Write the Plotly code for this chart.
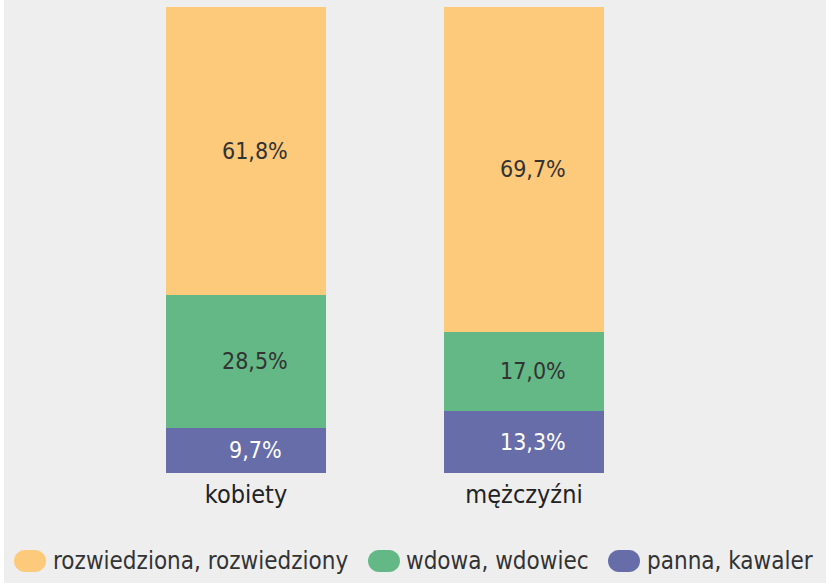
import plotly.graph_objects as go

# dane
categories = ['kobiety', 'mężczyźni']
panna_kawaler = [9.7, 13.3]
wdowa_wdowiec = [28.5, 17.0]
rozwiedzeni = [61.8, 69.7]

series = [
    ('panna, kawaler', panna_kawaler, '#676DA8', 'white'),
    ('wdowa, wdowiec', wdowa_wdowiec, '#63B886', '#333333'),
    ('rozwiedziona, rozwiedziony', rozwiedzeni, '#FDC97B', '#333333'),
]

FONT = 'DejaVu Sans Condensed, sans-serif'
W, H = 826, 583
ML, MR, MT, MB = 107, 163, 7, 110
PW, PH = W - ML - MR, H - MT - MB

fig = go.Figure()
annotations = []
base = [0.0] * len(categories)
for name, vals, col, tcol in series:
    fig.add_trace(go.Bar(
        x=categories, y=vals, name=name,
        marker=dict(color=col, line=dict(width=0)),
        showlegend=False, hoverinfo='x+y+name',
    ))
    # etykiety wartości (lekko przesunięte w prawo jak w oryginale)
    for i, (c, v) in enumerate(zip(categories, vals)):
        annotations.append(dict(
            x=c, y=base[i] + v / 2, xref='x', yref='y',
            text=f'{v:.1f}%'.replace('.', ','), showarrow=False,
            xshift=9, font=dict(family=FONT, size=23, color=tcol)))
        base[i] += v


def px2paper(px, py):
    return (px - ML) / PW, (H - MB - py) / PH


def pill(w, h):
    r = h / 2
    k = 0.5523 * r
    a = w / 2 - r
    return (f'M {-a},{-r} L {a},{-r} '
            f'C {a + k},{-r} {a + r},{-k} {a + r},0 '
            f'C {a + r},{k} {a + k},{r} {a},{r} '
            f'L {-a},{r} '
            f'C {-a - k},{r} {-a - r},{k} {-a - r},0 '
            f'C {-a - r},{-k} {-a - k},{-r} {-a},{-r} Z')


# legenda rysowana ręcznie (zaokrąglone znaczniki)
legend_items = [
    ('rozwiedziona, rozwiedziony', '#FDC97B', 30, 51),
    ('wdowa, wdowiec', '#63B886', 384, 404),
    ('panna, kawaler', '#676DA8', 624, 645),
]
shapes = []
ly = 561
for label, col, cx, tx in legend_items:
    ax, ay = px2paper(cx, ly)
    shapes.append(dict(type='path', xref='paper', yref='paper',
                       xsizemode='pixel', ysizemode='pixel',
                       xanchor=ax, yanchor=ay, path=pill(32, 22),
                       fillcolor=col, line=dict(width=0)))
    tx_, ty_ = px2paper(tx, ly)
    annotations.append(dict(text=label, xref='paper', yref='paper',
                            x=tx_, y=ty_, xanchor='left', yanchor='middle',
                            showarrow=False,
                            font=dict(family=FONT, size=24, color='#333333')))

# biały pasek przy lewej krawędzi
x0, _ = px2paper(0, 0)
x1, _ = px2paper(4, 0)
shapes.append(dict(type='rect', xref='paper', yref='paper', x0=x0, x1=x1,
                   y0=px2paper(0, H)[1], y1=px2paper(0, 0)[1],
                   fillcolor='white', line=dict(width=0), layer='below'))

fig.update_layout(
    barmode='stack', bargap=0.424,
    width=W, height=H,
    margin=dict(l=ML, r=MR, t=MT, b=MB),
    paper_bgcolor='#EEEEEE', plot_bgcolor='#EEEEEE',
    font=dict(family=FONT, size=24, color='#333333'),
    xaxis=dict(showgrid=False, zeroline=False, showline=False, ticks='',
               ticklabelstandoff=4,
               tickfont=dict(family=FONT, size=25, color='#222222')),
    yaxis=dict(range=[0, 100], visible=False),
    shapes=shapes, annotations=annotations,
)

fig.write_html('out.html', config={'displayModeBar': False},
               post_script="document.body.style.margin='0';")
